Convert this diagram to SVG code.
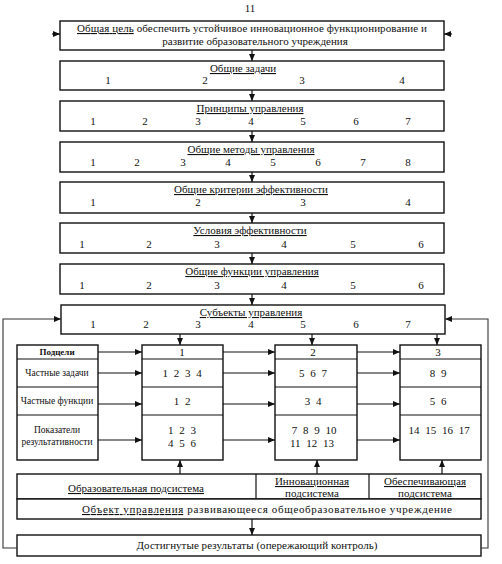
<svg xmlns="http://www.w3.org/2000/svg" width="502" height="564" viewBox="0 0 502 564">
<defs>
<marker id="ah" markerUnits="userSpaceOnUse" markerWidth="8" markerHeight="7" refX="7" refY="3" orient="auto"><path d="M0,0 L7,3 L0,6 z" fill="#111"/></marker>
<style>
.box{fill:#fff;stroke:#111;stroke-width:1.4}
.ln{fill:none;stroke:#111;stroke-width:1.2}
.c{stroke:#111;stroke-width:1.2;fill:none;marker-end:url(#ah)}
.fb{stroke:#333;stroke-width:1.1;fill:none;marker-end:url(#ah)}
text{font-family:"Liberation Serif","Times New Roman",serif;fill:#111;font-size:11px}
.t{text-anchor:middle;text-decoration:underline}
.n{text-anchor:middle}
.lb{text-anchor:middle;font-size:9.5px}
.lbb{text-anchor:middle;font-size:9px;font-weight:bold}
.v{text-anchor:middle;word-spacing:3px}
</style>
</defs>
<rect width="502" height="564" fill="#fff"/>
<text x="250" y="12" class="n" font-size="8">11</text>

<g id="goal">
<rect class="box" x="60" y="21" width="384" height="29"/>
<text x="77" y="32" textLength="350" lengthAdjust="spacing"><tspan text-decoration="underline">Общая цель</tspan>  обеспечить устойчивое инновационное функционирование и</text>
<text x="255" y="45" class="n">развитие образовательного учреждения</text>
</g>

<g id="tasks">
<rect class="box" x="60" y="61" width="384" height="29"/>
<text x="243" y="72" class="t">Общие задачи</text>
<text x="108" y="84" class="n">1</text><text x="205" y="84" class="n">2</text><text x="302" y="84" class="n">3</text><text x="402" y="84" class="n">4</text>
</g>

<g id="principles">
<rect class="box" x="60" y="101" width="384" height="30"/>
<text x="250" y="112" class="t">Принципы управления</text>
<text x="93" y="125" class="n">1</text><text x="145" y="125" class="n">2</text><text x="198" y="125" class="n">3</text><text x="251" y="125" class="n">4</text><text x="303" y="125" class="n">5</text><text x="356" y="125" class="n">6</text><text x="408" y="125" class="n">7</text>
</g>

<g id="methods">
<rect class="box" x="60" y="142" width="384" height="30"/>
<text x="251" y="153" class="t">Общие методы управления</text>
<text x="93" y="166" class="n">1</text><text x="137" y="166" class="n">2</text><text x="183" y="166" class="n">3</text><text x="228" y="166" class="n">4</text><text x="273" y="166" class="n">5</text><text x="318" y="166" class="n">6</text><text x="363" y="166" class="n">7</text><text x="408" y="166" class="n">8</text>
</g>

<g id="criteria">
<rect class="box" x="60" y="182" width="384" height="31"/>
<text x="251" y="193" class="t">Общие критерии эффективности</text>
<text x="93" y="206" class="n">1</text><text x="198" y="206" class="n">2</text><text x="303" y="206" class="n">3</text><text x="408" y="206" class="n">4</text>
</g>

<g id="conditions">
<rect class="box" x="60" y="223" width="384" height="30"/>
<text x="250" y="234" class="t">Условия эффективности</text>
<text x="82" y="248" class="n">1</text><text x="149" y="248" class="n">2</text><text x="217" y="248" class="n">3</text><text x="284" y="248" class="n">4</text><text x="353" y="248" class="n">5</text><text x="421" y="248" class="n">6</text>
</g>

<g id="functions">
<rect class="box" x="60" y="264" width="384" height="30"/>
<text x="252" y="275" class="t">Общие функции управления</text>
<text x="82" y="289" class="n">1</text><text x="149" y="289" class="n">2</text><text x="217" y="289" class="n">3</text><text x="284" y="289" class="n">4</text><text x="353" y="289" class="n">5</text><text x="421" y="289" class="n">6</text>
</g>

<g id="subjects">
<rect class="box" x="61" y="305" width="384" height="29"/>
<text x="251" y="316" class="t">Субъекты управления</text>
<text x="93" y="328" class="n">1</text><text x="146" y="328" class="n">2</text><text x="198" y="328" class="n">3</text><text x="251" y="328" class="n">4</text><text x="303" y="328" class="n">5</text><text x="356" y="328" class="n">6</text><text x="408" y="328" class="n">7</text>
</g>

<g id="labels">
<rect class="box" x="17" y="345" width="81" height="115"/>
<path class="ln" d="M17,359 H98 M17,387 H98 M17,415 H98"/>
<text x="57" y="355" class="lbb">Подцели</text>
<text x="57" y="376" class="lb">Частные задачи</text>
<text x="57" y="404" class="lb">Частные функции</text>
<text x="57" y="433" class="lb">Показатели</text>
<text x="57" y="445" class="lb">результативности</text>
</g>

<g id="col1">
<rect class="box" x="142" y="345" width="81" height="115"/>
<path class="ln" d="M142,359 H223 M142,387 H223 M142,415 H223"/>
<text x="182" y="356" class="n">1</text>
<text x="182" y="377" class="v">1 2 3 4</text>
<text x="182" y="405" class="v">1 2</text>
<text x="182" y="434" class="v">1 2 3</text>
<text x="182" y="447" class="v">4 5 6</text>
</g>

<g id="col2">
<rect class="box" x="275" y="345" width="82" height="115"/>
<path class="ln" d="M275,359 H357 M275,387 H357 M275,415 H357"/>
<text x="313" y="356" class="n">2</text>
<text x="313" y="377" class="v">5 6 7</text>
<text x="313" y="405" class="v">3 4</text>
<text x="314" y="434" class="v">7 8 9 10</text>
<text x="312" y="447" class="v">11 12 13</text>
</g>

<g id="col3">
<rect class="box" x="400" y="345" width="81" height="115"/>
<path class="ln" d="M400,359 H481 M400,387 H481 M400,415 H481"/>
<text x="438" y="356" class="n">3</text>
<text x="438" y="377" class="v">8 9</text>
<text x="438" y="405" class="v">5 6</text>
<text x="439" y="434" class="v">14 15 16 17</text>
</g>

<g id="subsystems">
<rect class="box" x="17" y="474" width="464" height="25"/>
<path class="ln" d="M256,474 V499 M369,474 V499"/>
<text x="136" y="492" class="t">Образовательная подсистема</text>
<text x="312" y="485" class="t">Инновационная</text>
<text x="312" y="497" class="t">подсистема</text>
<text x="425" y="485" class="t">Обеспечивающая</text>
<text x="425" y="497" class="t">подсистема</text>
</g>

<g id="object">
<rect class="box" x="17" y="499" width="464" height="20"/>
<text x="82" y="513" textLength="370" lengthAdjust="spacing"><tspan text-decoration="underline">Объект управления</tspan>   развивающееся общеобразовательное учреждение</text>
</g>

<g id="results">
<rect class="box" x="17" y="535" width="464" height="21"/>
<text x="257" y="549" class="n" textLength="241" lengthAdjust="spacing">Достигнутые результаты  (опережающий контроль)</text>
</g>

<g id="connectors">
<path class="c" d="M252,50 V61"/>
<path class="c" d="M252,90 V101"/>
<path class="c" d="M252,131 V142"/>
<path class="c" d="M252,172 V182"/>
<path class="c" d="M252,213 V223"/>
<path class="c" d="M252,253 V264"/>
<path class="c" d="M252,294 V305"/>
<path class="c" d="M180,334 V345"/>
<path class="c" d="M312,334 V345"/>
<path class="c" d="M437,334 V345"/>
<path class="c" d="M98,352 H142"/>
<path class="c" d="M98,373 H142"/>
<path class="c" d="M98,404 H142"/>
<path class="c" d="M98,440 H142"/>
<path class="c" d="M223,352 H275"/>
<path class="c" d="M223,373 H275"/>
<path class="c" d="M223,404 H275"/>
<path class="c" d="M223,440 H275"/>
<path class="c" d="M357,352 H400"/>
<path class="c" d="M357,373 H400"/>
<path class="c" d="M357,404 H400"/>
<path class="c" d="M357,440 H400"/>
<path class="c" d="M180,474 V460"/>
<path class="c" d="M317,474 V460"/>
<path class="c" d="M442,474 V460"/>
<path class="c" d="M252,519 V535"/>
<path class="fb" d="M17,548 H3 V319 H61"/>
<path class="fb" d="M481,548 H488 V319 H445"/>
<path class="c" d="M52,34 H60"/>
<path class="c" d="M452,34 H444"/>
</g>
</svg>
